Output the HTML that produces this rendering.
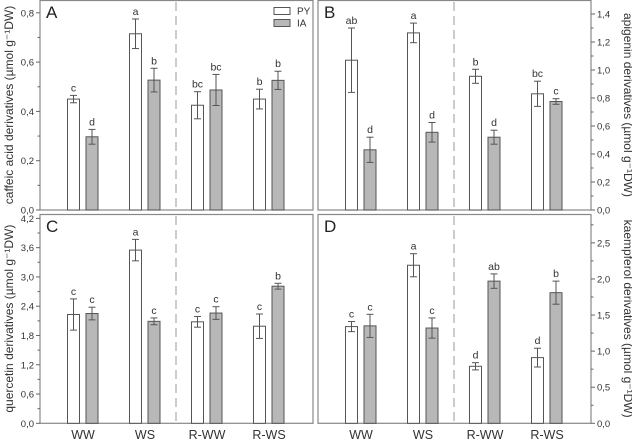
<!DOCTYPE html>
<html><head><meta charset="utf-8"><style>
body{margin:0;background:#fff}
svg{display:block;font-family:"Liberation Sans",Arial,sans-serif}
</style></head><body>
<svg id="c" width="632" height="440" viewBox="0 0 632 440"></svg>
<script>
const categories=["WW","WS","R-WW","R-WS"];
const aPY=[0.45,0.715,0.425,0.45], aPYe=[0.015,0.06,0.055,0.04], aIA=[0.297,0.527,0.487,0.526], aIAe=[0.03,0.048,0.063,0.037];
const aPYl=["c","a","bc","b"], aIAl=["d","b","bc","b"];
const bPY=[1.07,1.265,0.955,0.83], bPYe=[0.23,0.07,0.05,0.09], bIA=[0.43,0.555,0.52,0.775], bIAe=[0.09,0.07,0.05,0.02];
const bPYl=["ab","a","b","bc"], bIAl=["d","d","d","c"];
const cPY=[2.23,3.55,2.08,1.99], cPYe=[0.32,0.22,0.11,0.25], cIA=[2.25,2.09,2.26,2.81], cIAe=[0.13,0.07,0.13,0.06];
const cPYl=["c","a","c","c"], cIAl=["c","c","c","b"];
const dPY=[1.34,2.19,0.79,0.91], dPYe=[0.07,0.16,0.05,0.13], dIA=[1.35,1.32,1.97,1.81], dIAe=[0.16,0.14,0.1,0.16];
const dPYl=["c","a","d","d"], dIAl=["c","c","ab","b"];
const aTicks=["0,0","0,2","0,4","0,6","0,8"], bTicks=["0,0","0,2","0,4","0,6","0,8","1,0","1,2","1,4"];
const cTicks=["0,0","0,6","1,2","1,8","2,4","3,0","3,6","4,2"], dTicks=["0,0","0,5","1,0","1,5","2,0","2,5"];

const svg=document.getElementById('c');
const NS="http://www.w3.org/2000/svg";
function mk(tag,attrs,name,parent){const e=document.createElementNS(NS,tag);for(const k in attrs)e.setAttribute(k,attrs[k]);


(parent||svg).appendChild(e);return e;}
function txt(x,y,s,size,anchor,name,extra){const t=mk('text',Object.assign({x:x,y:y,'font-size':size,'text-anchor':anchor||'middle',fill:'#333'},extra||{}),name);t.textContent=s;return t;}

const panels=[
 {id:'A',x0:40,x1:313,y0:0,y1:210,max:0.852,step:0.2,ticks:aTicks,py:aPY,pye:aPYe,ia:aIA,iae:aIAe,pyl:aPYl,ial:aIAl,side:'left',title:'caffeic acid derivatives (\u00b5mol g\u207b\u00b9DW)'},
 {id:'B',x0:318,x1:591,y0:0,y1:210,max:1.5,step:0.2,ticks:bTicks,py:bPY,pye:bPYe,ia:bIA,iae:bIAe,pyl:bPYl,ial:bIAl,side:'right',title:'apigenin derivatives (\u00b5mol g\u207b\u00b9DW)'},
 {id:'C',x0:40,x1:313,y0:214,y1:423.3,max:4.29,step:0.6,ticks:cTicks,py:cPY,pye:cPYe,ia:cIA,iae:cIAe,pyl:cPYl,ial:cIAl,side:'left',title:'quercetin derivatives (\u00b5mol g\u207b\u00b9DW)'},
 {id:'D',x0:318,x1:591,y0:214,y1:423.3,max:2.9,step:0.5,ticks:dTicks,py:dPY,pye:dPYe,ia:dIA,iae:dIAe,pyl:dPYl,ial:dIAl,side:'right',title:'kaempferol derivatives (\u00b5mol g\u207b\u00b9DW)'}
];
panels.forEach(p=>{
 const lc=p.id.toLowerCase();
 const y=v=>p.y1-v*(p.y1-p.y0)/p.max;
 const gx=i=>p.x0+43+i*62;
 mk('rect',{x:p.x0,y:p.y0+0.5,width:p.x1-p.x0,height:p.y1-p.y0-0.5,fill:'none',stroke:'#888','stroke-width':1.2},'panel-'+lc+'-frame');
 const ax=p.side==='left'?p.x0:p.x1, dir=p.side==='left'?-1:1;
 p.ticks.forEach((t,i)=>{const v=i*p.step, yy=y(v);
  mk('line',{x1:ax,x2:ax+dir*4,y1:yy,y2:yy,stroke:'#666'},'y-tick');
  const vm=v+p.step/2; if(vm<p.max){const ym=y(vm);mk('line',{x1:ax,x2:ax+dir*2.5,y1:ym,y2:ym,stroke:'#666'},'y-minor-tick');}
  txt(ax+dir*6,yy+3.5,t,9.5,p.side==='left'?'end':'start','y-tick-label');
 });
 const tx=p.side==='left'?13:624, ty=(p.y0+p.y1)/2;
 txt(tx,ty,p.title,12,'middle','y-axis-title-'+lc,{transform:`rotate(${p.side==='left'?-90:90} ${tx} ${ty})`});
 txt(p.x0+6,p.y0+18,p.id,17,'start','panel-label-'+lc,{fill:'#222'});
 mk('line',{x1:p.x0+136,x2:p.x0+136,y1:p.y0+2,y2:p.y1,stroke:'#999','stroke-dasharray':'9,5','stroke-width':1},'separator-line');
 categories.forEach((c,i)=>{
  [[p.py,p.pye,p.pyl,'#fff',-9.5,'py'],[p.ia,p.iae,p.ial,'#b8b8b8',9,'ia']].forEach(s=>{
   const v=s[0][i], e=s[1][i], cx=gx(i)+s[4];
   mk('rect',{x:cx-6,y:y(v),width:12,height:p.y1-y(v),fill:s[3],stroke:'#555','stroke-width':1},'bar-'+lc+'-'+s[5]+'-'+c.toLowerCase());
   mk('line',{x1:cx,x2:cx,y1:y(v+e),y2:y(v-e),stroke:'#555'},'error-bar');
   mk('line',{x1:cx-3.5,x2:cx+3.5,y1:y(v+e),y2:y(v+e),stroke:'#555'},'error-cap');
   mk('line',{x1:cx-3.5,x2:cx+3.5,y1:y(v-e),y2:y(v-e),stroke:'#555'},'error-cap');
   txt(cx,y(v+e)-4,s[2][i],10.5,'middle','significance-letter');
  });
  if(p.id==='C'||p.id==='D') txt(gx(i),439,c,12.5,'middle','x-label-'+c.toLowerCase());
 });
});
mk('rect',{x:274,y:7.5,width:16,height:7,fill:'#fff',stroke:'#555'},'legend-swatch-py');
txt(297,14.5,'PY',10,'start','legend-label-py');
mk('rect',{x:274,y:19.5,width:16,height:7,fill:'#b8b8b8',stroke:'#555'},'legend-swatch-ia');
txt(297,26.5,'IA',10,'start','legend-label-ia');
</script></body></html>
